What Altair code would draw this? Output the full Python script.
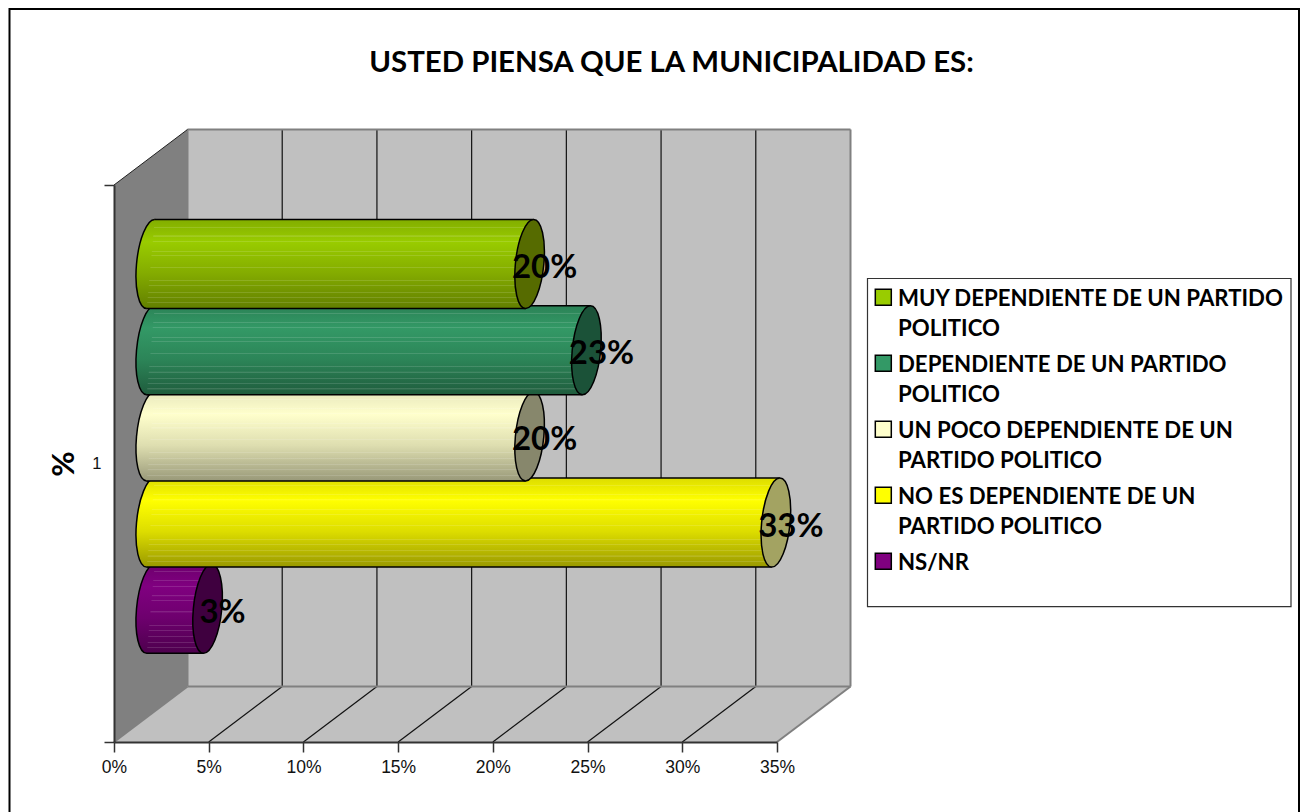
import altair as alt
import pandas as pd

# ---- chart values ----
TITLE = "USTED PIENSA QUE LA MUNICIPALIDAD ES:"
SERIES = ["MUY DEPENDIENTE DE UN PARTIDO\nPOLITICO",
          "DEPENDIENTE DE UN PARTIDO\nPOLITICO",
          "UN POCO DEPENDIENTE DE UN\nPARTIDO POLITICO",
          "NO ES DEPENDIENTE DE UN\nPARTIDO POLITICO",
          "NS/NR"]
VALUES = [20, 23, 20, 33, 3]
BASE = ["#99CC00", "#339966", "#FFFFCC", "#FFFF00", "#800080"]
MID = ["#84AC00", "#2C8558", "#DEDEB0", "#DDDD00", "#6E006E"]
TOP = ["#82AD00", "#2B8256", "#E8E8BE", "#DDDD00", "#6D006D"]
LOW = ["#627F00", "#1F5C3D", "#999979", "#999900", "#4D004D"]
CAP = ["#566B00", "#1B5238", "#87876C", "#A3A362", "#3F003F"]
XTICKS = [0, 5, 10, 15, 20, 25, 30, 35]
BANDS = [.08, .18, .24, .35, .40, .53, .68, .74, .81, .87, .93]

# ---- layout ----
W, H = 663, 557
PADL, PADT = 106, 177
PX = W / 35
DX = 73.5 / PX          # depth of the box in x units
DY = 55.5 / H           # depth of the box in y units
BAR_H = 89 / H
CENTERS = [(742 - (264 + 86.2 * i)) / H for i in range(5)]
START = DX / 2
SKEW = 4 / PX

xs = alt.Scale(domain=[0, 35], nice=False, zero=False)
ys = alt.Scale(domain=[0, 1], nice=False, zero=False)
AX = alt.Axis(
    values=XTICKS, labelExpr="datum.value + '%'", grid=False, tickSize=10, tickColor="#333333",
    domainColor="#333333", domainWidth=2, tickWidth=1.5, labelFont="Liberation Sans", labelFontSize=17.5,
    labelColor="#111111", labelPadding=6, zindex=1, labelFlush=False, labelOverlap=False)
AY = alt.Axis(
    values=[0, 0.5, 1], labelExpr="datum.value == 0.5 ? '1' : ''", grid=False, tickSize=10,
    tickColor={"condition": {"test": "datum.value == 0.5", "value": "transparent"}, "value": "#333333"},
    domainColor="#333333", domainWidth=2, tickWidth=1.5, labelFont="Liberation Sans", labelFontSize=16.5,
    labelColor="#111111", labelPadding=3, zindex=1, labelOverlap=False, labelFlush=False,
    titleFont="Lato", titleFontSize=31, titleFontWeight="bold", titleColor="black", titlePadding=11)
X = lambda f="x": alt.X(f"{f}:Q", scale=xs, axis=AX, title=None)
Y = lambda f="y": alt.Y(f"{f}:Q", scale=ys, axis=AY, title="%")
ux = lambda page_x: (page_x - 114) / PX   # page pixel -> x units
uy = lambda page_y: (742 - page_y) / H    # page pixel -> y units

# tilted ellipse, unit half height
a, k, c = 0.32, 0.09, 0.5523
ELLIPSE = (f"M{a},0 C{a+k*c},{-c} {a*c+k},-1 {k},-1 "
           f"C{-a*c+k},-1 {-a+k*c},{-c} {-a},0 "
           f"C{-a-k*c},{c} {-a*c-k},1 {-k},1 "
           f"C{a*c-k},1 {a-k*c},{c} {a},0 Z")

CLEAR, SHEEN = "rgba(255,255,255,0)", "rgba(255,255,255,0.13)"
band_stops = []
for b in BANDS:
    band_stops += [alt.GradientStop(offset=b - 0.001, color=CLEAR),
                   alt.GradientStop(offset=b, color=SHEEN),
                   alt.GradientStop(offset=b + 0.011, color=SHEEN),
                   alt.GradientStop(offset=b + 0.012, color=CLEAR)]
banding = alt.Gradient(gradient="linear", x1=0, x2=0, y1=0, y2=1, stops=band_stops)

def rules(rows, **style):
    return alt.Chart(pd.DataFrame(rows)).mark_rule(**style).encode(
        x=X("x"), x2="x2:Q", y=Y("y"), y2="y2:Q")

layers = []

# outer frame
layers.append(alt.Chart(pd.DataFrame({"a": [0]})).mark_rect(fill="white", stroke="black", strokeWidth=2).encode(
    x=alt.value(-104.5), x2=alt.value(1185), y=alt.value(-176), y2=alt.value(700)))

# left wall
wall = pd.DataFrame({"x": [0, DX], "y": [1, 1 + DY], "y2": [0, DY]})
layers.append(alt.Chart(wall).mark_area(color="#808080", orient="vertical").encode(x=X(), y=Y(), y2="y2:Q"))
# back wall and floor
back = pd.DataFrame({"x": [DX, 35 + DX], "y": [1 + DY, 1 + DY], "y2": [DY, DY]})
layers.append(alt.Chart(back).mark_area(color="#C0C0C0", orient="vertical").encode(x=X(), y=Y(), y2="y2:Q"))
floor = pd.DataFrame({"x": [0, DX, 35, 35 + DX], "y": [0, DY, DY, DY], "y2": [0, 0, 0, DY]})
layers.append(alt.Chart(floor).mark_area(color="#C0C0C0", orient="vertical").encode(x=X(), y=Y(), y2="y2:Q"))

# grid lines
layers.append(rules([{"x": v + DX, "x2": v + DX, "y": DY, "y2": 1 + DY} for v in XTICKS[1:-1]],
                    color="#111111", strokeWidth=1.2))
layers.append(rules([{"x": v, "x2": v + DX, "y": 0, "y2": DY} for v in XTICKS[1:-1]],
                    color="#111111", strokeWidth=1.2))
# box edges
layers.append(rules([{"x": DX, "x2": 35 + DX, "y": 1 + DY, "y2": 1 + DY},
                     {"x": DX, "x2": 35 + DX, "y": DY, "y2": DY},
                     {"x": DX, "x2": DX, "y": DY, "y2": 1 + DY},
                     {"x": 35 + DX, "x2": 35 + DX, "y": DY, "y2": 1 + DY},
                     {"x": 35, "x2": 35 + DX, "y": 0, "y2": DY},
                     {"x": 0, "x2": DX, "y": 0, "y2": DY}],
                    color="#808080", strokeWidth=2))
layers.append(rules([{"x": 0, "x2": DX, "y": 1, "y2": 1 + DY}], color="#222222", strokeWidth=1))

# cylinders, lowest series first so the upper ones overlap them
for i in reversed(range(5)):
    grad = alt.Gradient(gradient="linear", x1=0, x2=0, y1=0, y2=1, stops=[
        alt.GradientStop(offset=0, color=TOP[i]),
        alt.GradientStop(offset=0.25, color=BASE[i]),
        alt.GradientStop(offset=0.6, color=MID[i]),
        alt.GradientStop(offset=1, color=LOW[i])])
    yc, v = CENTERS[i], VALUES[i]
    top, bot = yc + BAR_H / 2, yc - BAR_H / 2
    x0, x1 = START, START + v
    one = pd.DataFrame({"x": [x0], "y": [yc]})
    layers.append(alt.Chart(one).mark_point(shape=ELLIPSE, size=89 ** 2, fill=grad, stroke="black",
                                            strokeWidth=1.5, opacity=1, filled=True).encode(x=X(), y=Y()))
    body = pd.DataFrame({"x": [x0 - SKEW, x0 + SKEW, x1 - SKEW, x1 + SKEW],
                         "y": [bot, top, top, top], "y2": [bot, bot, bot, top]})
    layers.append(alt.Chart(body).mark_area(color=grad, orient="vertical").encode(x=X(), y=Y(), y2="y2:Q"))
    layers.append(alt.Chart(body).mark_area(color=banding, orient="vertical").encode(x=X(), y=Y(), y2="y2:Q"))
    layers.append(rules([{"x": x0 + SKEW, "x2": x1 + SKEW, "y": top, "y2": top},
                         {"x": x0 - SKEW, "x2": x1 - SKEW, "y": bot, "y2": bot}],
                        color="black", strokeWidth=1.5))
    end = pd.DataFrame({"x": [x1], "y": [yc]})
    layers.append(alt.Chart(end).mark_point(shape=ELLIPSE, size=89 ** 2, fill=CAP[i], stroke="black",
                                            strokeWidth=1.5, opacity=1, filled=True).encode(x=X(), y=Y()))

# data labels
labels = pd.DataFrame({"x": [START + v for v in VALUES], "y": CENTERS, "t": [f"{v}%" for v in VALUES]})
layers.append(alt.Chart(labels).mark_text(font="Lato", fontSize=33, fontWeight="bold", color="black",
                                          align="center", baseline="middle", dx=15, dy=4).encode(
    x=X(), y=Y(), text="t:N"))

# legend
box = pd.DataFrame({"x": [ux(867.5)], "x2": [ux(1291)], "y": [uy(278.5)], "y2": [uy(606.7)]})
layers.append(alt.Chart(box).mark_rect(fill="white", stroke="#333333", strokeWidth=1.2).encode(
    x=X(), x2="x2:Q", y=Y(), y2="y2:Q"))
leg = pd.DataFrame({"lx": [ux(883.3)] * 5, "tx": [ux(898)] * 5,
                    "ly": [uy(297.3 + 66 * i) for i in range(5)], "by": [uy(306 + 66 * i) for i in range(5)],
                    "label": SERIES, "col": BASE})
layers.append(alt.Chart(leg).mark_square(size=256, stroke="black", strokeWidth=1.5, opacity=1).encode(
    x=X("lx"), y=Y("ly"), fill=alt.Fill("col:N", scale=None)))
layers.append(alt.Chart(leg).mark_text(font="Lato", fontSize=22.2, fontWeight="bold", color="black",
                                       align="left", baseline="alphabetic", lineBreak="\n", lineHeight=29.5).encode(
    x=X("tx"), y=Y("by"), text="label:N"))

chart = alt.layer(*layers).properties(
    width=W, height=H,
    title=alt.TitleParams(TITLE, font="Lato", fontSize=29.4, fontWeight="bold", color="black",
                          anchor="middle", dx=226, offset=-70),
    padding={"left": PADL, "top": PADT, "right": 1292 - PADL - W, "bottom": 804 - PADT - H},
    autosize=alt.AutoSizeParams(type="none"),
).resolve_scale(x="shared", y="shared").configure_view(stroke=None)

chart.save("out.html", embed_options={"renderer": "svg", "actions": False})
